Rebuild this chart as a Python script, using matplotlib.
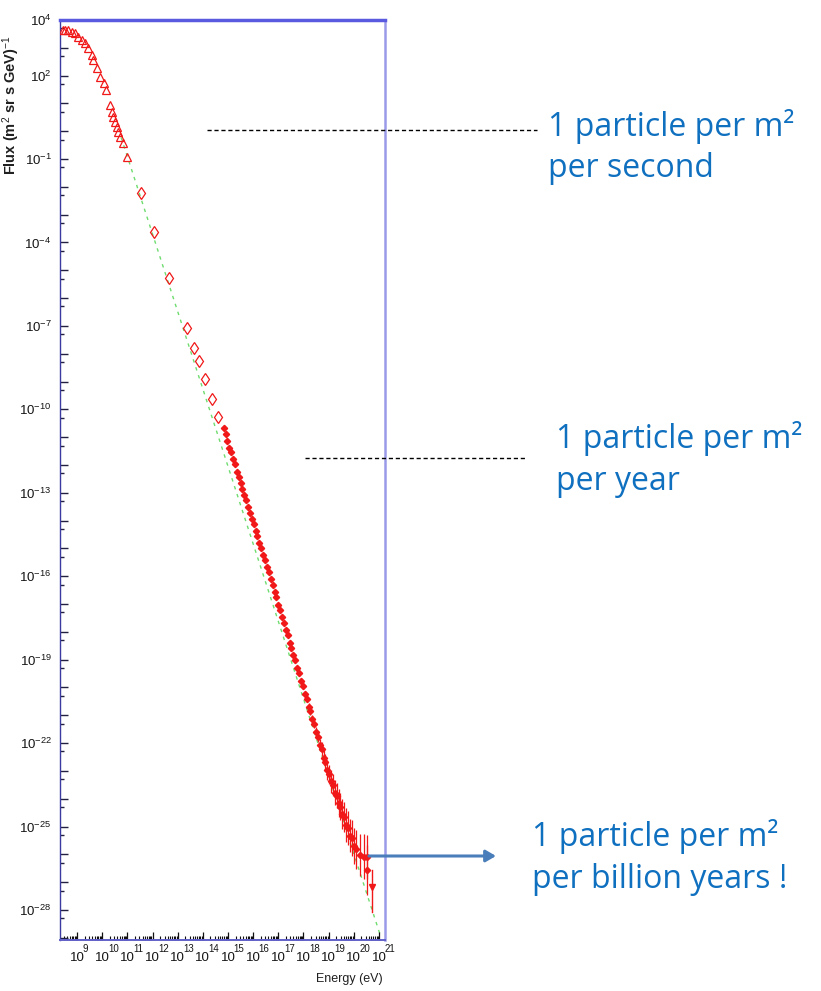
import numpy as np
import matplotlib
matplotlib.use("Agg")
import matplotlib.pyplot as plt
from matplotlib.ticker import FixedLocator, FuncFormatter, NullFormatter

# ---------------- data (log10 values) ----------------
tri_logE = [8.45, 8.52, 8.65, 8.79, 8.92, 9.05, 9.19, 9.32, 9.45, 9.58, 9.65, 9.78,
            9.92, 10.05, 10.15, 10.31, 10.38, 10.44, 10.51, 10.58, 10.64, 10.71,
            10.82, 11.00]
tri_logF = [3.64, 3.64, 3.64, 3.58, 3.52, 3.40, 3.28, 3.16, 2.98, 2.74, 2.56, 2.26,
            1.96, 1.72, 1.48, 0.94, 0.70, 0.52, 0.34, 0.16, -0.02, -0.20,
            -0.43, -0.92]

dia_logE = [11.53, 12.07, 12.67, 13.36, 13.66, 13.84, 14.10, 14.38, 14.62]
dia_logF = [-2.23, -3.61, -5.27, -7.09, -7.81, -8.25, -8.92, -9.64, -10.29]

hi_logE = [14.82, 14.90, 14.97, 15.05, 15.12, 15.20, 15.27, 15.35, 15.42, 15.50,
           15.57, 15.65, 15.72, 15.80, 15.87, 15.95, 16.02, 16.10, 16.17, 16.25,
           16.32, 16.40, 16.47, 16.55, 16.62, 16.70, 16.77, 16.85, 16.92, 17.00,
           17.07, 17.15, 17.22, 17.30, 17.37, 17.45, 17.52, 17.60, 17.67, 17.75,
           17.82, 17.90, 17.97, 18.05, 18.12, 18.20, 18.27, 18.35, 18.42, 18.50,
           18.57, 18.65, 18.72, 18.80, 18.87, 18.95, 19.02, 19.10, 19.17, 19.25,
           19.32, 19.40, 19.47, 19.55, 19.62, 19.70, 19.77, 19.85, 19.92, 20.00,
           20.10, 20.25, 20.40, 20.52, 20.54]
hi_logF = [-10.68, -10.88, -11.12, -11.38, -11.55, -11.80, -11.98, -12.24, -12.42, -12.64,
           -12.87, -13.08, -13.27, -13.52, -13.71, -13.95, -14.13, -14.38, -14.57, -14.81,
           -14.99, -15.24, -15.43, -15.67, -15.85, -16.09, -16.31, -16.55, -16.75, -17.02,
           -17.21, -17.47, -17.67, -17.93, -18.13, -18.39, -18.58, -18.84, -19.03, -19.30,
           -19.49, -19.77, -19.95, -20.23, -20.40, -20.69, -20.86, -21.14, -21.31, -21.60,
           -21.77, -22.06, -22.22, -22.52, -22.68, -22.97, -23.12, -23.38, -23.50, -23.78,
           -23.90, -24.16, -24.28, -24.55, -24.66, -24.94, -25.05, -25.33, -25.42, -25.70,
           -25.82, -26.02, -26.08, -26.09, -26.56]
hi_err = [0.05, 0.05, 0.05, 0.05, 0.05, 0.05, 0.05, 0.05, 0.05, 0.05,
          0.05, 0.05, 0.05, 0.05, 0.05, 0.05, 0.05, 0.05, 0.05, 0.05,
          0.05, 0.05, 0.05, 0.05, 0.05, 0.05, 0.06, 0.06, 0.06, 0.06,
          0.06, 0.06, 0.07, 0.07, 0.07, 0.08, 0.08, 0.08, 0.09, 0.09,
          0.10, 0.10, 0.11, 0.12, 0.12, 0.13, 0.14, 0.15, 0.16, 0.18,
          0.20, 0.22, 0.25, 0.28, 0.30, 0.35, 0.35, 0.40, 0.40, 0.45,
          0.45, 0.50, 0.50, 0.55, 0.55, 0.60, 0.60, 0.60, 0.65, 0.65,
          0.70, 0.75, 0.80, 0.80, 0.90]

lim_logE = [20.72]
lim_logF = [-27.16]

fit_logE = [10.75, 21.05]
fit_logF = [-0.22, -28.90]

ytick_labels_exp = [4, 2, -1, -4, -7, -10, -13, -16, -19, -22, -25, -28]
xtick_exp = list(range(9, 22))

annotations = [
    ("1 particle per m\u00b2", "per second"),
    ("1 particle per m\u00b2", "per year"),
    ("1 particle per m\u00b2", "per billion years !"),
]

# ---------------- fonts ----------------
plt.rcParams["mathtext.fontset"] = "custom"
plt.rcParams["mathtext.rm"] = "Liberation Sans"
plt.rcParams["mathtext.it"] = "Liberation Sans:italic"
plt.rcParams["mathtext.bf"] = "Liberation Sans:bold"

W, H = 821, 991
fig = plt.figure(figsize=(W / 100, H / 100), dpi=100)
L, R, T, B = 60, 385, 20, 940
ax = fig.add_axes([L / W, 1 - B / H, (R - L) / W, (B - T) / H])
ax.set_xscale("log")
ax.set_yscale("log")
ax.set_xlim(10 ** 8.32, 10 ** 21.24)
ax.set_ylim(10 ** -29.08, 10 ** 4)

red = "#f01818"
# power-law fit
ax.plot(10 ** np.array(fit_logE), 10 ** np.array(fit_logF), color="#6fdc6f",
        lw=1.0, ls=(0, (2.5, 3.5)), zorder=1)
# triangles
ax.plot(10 ** np.array(tri_logE), 10 ** np.array(tri_logF), ls="none", marker="^",
        ms=6, mfc="none", mec=red, mew=0.9, zorder=3)
# diamonds
ax.plot(10 ** np.array(dia_logE), 10 ** np.array(dia_logF), ls="none", marker="d",
        ms=6.5, mfc="none", mec=red, mew=0.9, zorder=3)
# dense data with error bars
hE = 10 ** np.array(hi_logE)
hF = 10 ** np.array(hi_logF)
he = np.array(hi_err)
lo = hF - 10 ** (np.array(hi_logF) - he)
up = 10 ** (np.array(hi_logF) + he) - hF
ax.errorbar(hE, hF, yerr=[lo, up], fmt="D", ms=3.2, color=red, mfc=red, mec=red,
            ecolor=red, elinewidth=0.9, capsize=0, zorder=3)
# upper limit arrow
for le, lf in zip(lim_logE, lim_logF):
    ax.plot([10 ** le, 10 ** le], [10 ** (lf + 0.6), 10 ** (lf - 0.9)], color=red, lw=1.0, zorder=3)
    ax.plot([10 ** le], [10 ** lf], marker="v", ms=5, color=red, ls="none", zorder=3)

# ticks
ax.yaxis.set_major_locator(FixedLocator([10.0 ** k for k in range(-29, 5)]))
ax.yaxis.set_minor_locator(FixedLocator([5 * 10.0 ** k for k in range(-30, 4)]))
ax.yaxis.set_major_formatter(FuncFormatter(
    lambda v, p: (r"$10^{%d}$" % round(np.log10(v))) if round(np.log10(v)) in ytick_labels_exp else ""))
ax.yaxis.set_minor_formatter(NullFormatter())
ax.xaxis.set_major_locator(FixedLocator([10.0 ** k for k in xtick_exp]))
ax.xaxis.set_minor_locator(FixedLocator([m * 10.0 ** k for k in range(8, 22) for m in range(2, 10)]))
ax.xaxis.set_major_formatter(FuncFormatter(lambda v, p: "10"))
ax.xaxis.set_minor_formatter(NullFormatter())

ax.tick_params(axis="y", which="major", direction="in", length=6, width=1.0,
               color="#202040", labelsize=9.5, pad=6, right=False)
ax.tick_params(axis="y", which="minor", direction="in", length=3, width=1.0,
               color="#202040", right=False)
ax.tick_params(axis="x", which="major", direction="in", length=6, width=0.9,
               color="#101010", labelsize=9.5, pad=8.5, top=False)
ax.tick_params(axis="x", which="minor", direction="in", length=3, width=0.8,
               color="#101010", top=False)
for lab in ax.get_xticklabels() + ax.get_yticklabels():
    lab.set_color("#151515")
    lab.set_family("Liberation Sans")

# exponents of the x tick labels
for k in xtick_exp:
    ax.annotate(str(k), xy=(10.0 ** k, 0), xycoords=("data", "axes fraction"),
                xytext=(4.0, -6.8), textcoords="offset points", ha="left", va="center",
                fontsize=7, family="Liberation Sans", color="#151515", annotation_clip=False)

ax.spines["left"].set_color("#3a3aa0")
ax.spines["left"].set_linewidth(1.0)
ax.spines["top"].set_color("#5a5ae0")
ax.spines["top"].set_linewidth(2.5)
ax.spines["right"].set_color("#9a9ae8")
ax.spines["right"].set_linewidth(1.8)
ax.spines["bottom"].set_color("#6060c8")
ax.spines["bottom"].set_linewidth(1.4)

fig.text(11 / W, 1 - 105 / H, r"Flux (m$^{2}$ sr s GeV)$^{-1}$", rotation=90,
         ha="center", va="center", fontsize=10.5, fontweight="bold",
         family="Liberation Sans", color="#202020")
fig.text(383 / W, 1 - 979 / H, "Energy (eV)", ha="right", va="center",
         fontsize=9, family="Liberation Sans", color="#202020")

# ---------------- overlay annotations (figure pixels) ----------------
ov = fig.add_axes([0, 0, 1, 1], facecolor="none")
ov.set_xlim(0, W)
ov.set_ylim(H, 0)
ov.axis("off")
blue = "#1070c0"
fs = 23
pos = [(548, 136, 177), (556, 448, 490), (532, 846, 888)]
for (l1, l2), (x, y1, y2) in zip(annotations, pos):
    ov.text(x, y1, l1, color=blue, fontsize=fs, family="Open Sans", ha="left", va="baseline")
    ov.text(x, y2, l2, color=blue, fontsize=fs, family="Open Sans", ha="left", va="baseline")
ov.plot([207, 537], [130, 130], color="black", lw=1.0, ls=(0, (3, 2)))
ov.plot([305, 527], [458, 458], color="black", lw=1.0, ls=(0, (3, 2)))
ov.annotate("", xy=(496, 856), xytext=(369, 856),
            arrowprops=dict(arrowstyle="-|>,head_length=0.6,head_width=0.35",
                            color="#4a7ebb", lw=2.2, shrinkA=0, shrinkB=0))

fig.savefig("out.png", dpi=100)
